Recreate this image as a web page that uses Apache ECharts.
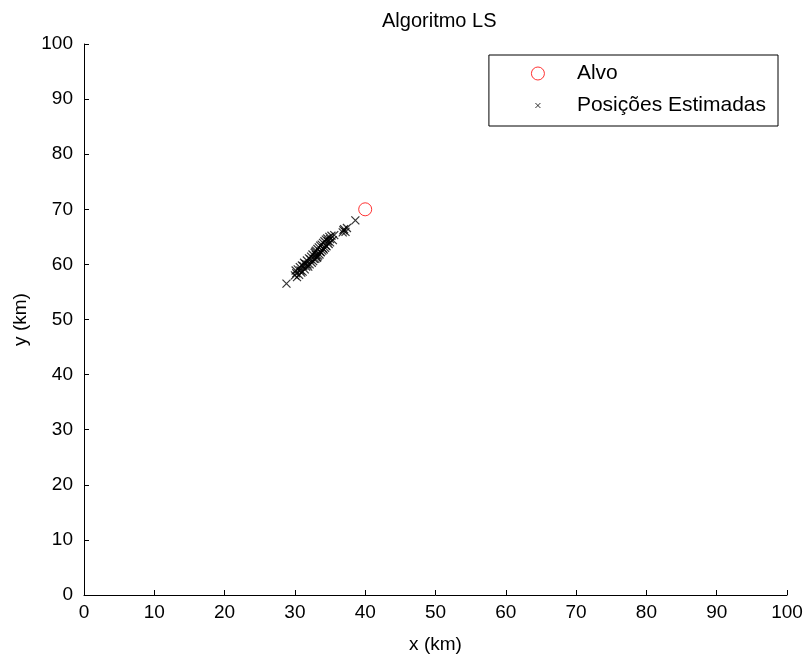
<!DOCTYPE html>
<html>
<head>
<meta charset="utf-8">
<script src="https://cdn.jsdelivr.net/npm/echarts@6/dist/echarts.min.js"></script>
<style>
html,body{margin:0;padding:0;background:#fff;}
#c{width:810px;height:659px;}
</style>
</head>
<body>
<div id="c"></div>
<script>
const titleText = 'Algoritmo LS';
const xName = 'x (km)';
const yName = 'y (km)';
const seriesNames = ['Alvo', 'Posições Estimadas'];
const targetX = [40];
const targetY = [70];
const estX = [28.8,30.0,30.1,30.3,30.4,30.6,30.7,30.9,31.0,31.1,31.3,31.4,31.6,31.7,31.9,32.0,32.1,32.3,32.4,32.5,32.6,32.8,32.9,33.0,33.1,33.2,33.3,33.4,33.5,33.6,33.7,33.8,33.9,34.0,34.1,34.2,34.3,34.4,34.5,34.6,34.8,34.9,35.0,35.2,35.4,35.6,33.2,32.7,31.8,30.8,33.6,34.4,30.2,31.2,32.2,33.0,34.0,35.0,31.5,32.9,34.7,36.8,37.0,37.2,37.4,36.9,38.6];
const estY = [56.5,58.0,58.9,57.7,59.1,58.1,59.5,58.5,59.8,58.7,60.3,59.1,59.6,60.7,59.6,61.1,60.0,61.4,60.3,61.8,60.6,62.1,61.0,62.5,61.2,62.8,61.6,63.1,61.8,63.4,62.2,63.6,62.5,63.9,62.7,64.2,63.0,64.5,63.3,64.7,63.7,65.0,64.0,65.2,64.4,65.3,61.3,61.0,60.0,58.9,62.3,63.4,58.4,59.7,60.9,61.7,62.9,64.6,60.1,62.3,64.2,65.8,66.4,65.9,66.6,66.2,68.0];
const xTicks = [0,10,20,30,40,50,60,70,80,90,100];
const yTicks = [0,10,20,30,40,50,60,70,80,90,100];

const FONT = 'Liberation Sans, Arial, sans-serif';
const crossPath = 'path://M0,0L10,10M10,0L0,10';
const crossLegend = 'path://M-8,-8M18,18M0,0L10,10M10,0L0,10';

const chart = echarts.init(document.getElementById('c'), null, {renderer:'canvas'});
const axisCommon = {
  type: 'value',
  min: xTicks[0], max: xTicks[xTicks.length-1], interval: xTicks[1]-xTicks[0],
  splitLine: {show:false},
  axisLine: {show:true, lineStyle:{color:'#000', width:1}},
  axisTick: {show:true, inside:true, length:5, lineStyle:{color:'#000'}},
  nameLocation: 'middle',
  nameTextStyle: {color:'#000', fontSize:19, fontFamily:FONT},
};
chart.setOption({
  animation: false,
  backgroundColor: '#fff',
  title: {
    text: titleText, left: 377, top: 6,
    textStyle: {color:'#000', fontSize:20, fontWeight:'normal', fontFamily:FONT}
  },
  grid: {left:84, right:23, top:44, bottom:62},
  legend: {
    orient: 'vertical',
    right: 32, top: 55,
    borderColor: '#000', borderWidth: 1,
    padding: [8, 12, 10, 42],
    itemGap: 11,
    itemWidth: 68, itemHeight: 13,
    textStyle: {color:'#000', fontSize:21, fontFamily:FONT},
    data: [
      {name: seriesNames[0], icon:'circle', itemStyle:{color:'transparent', borderColor:'#ff0000', borderWidth:1}},
      {name: seriesNames[1], icon: crossLegend, itemStyle:{color:'transparent', borderColor:'#000', borderWidth:1}}
    ]
  },
  xAxis: Object.assign({}, axisCommon, {
    name: xName, nameGap: 40,
    axisLabel: {color:'#000', fontSize:19, fontFamily:FONT, margin:8}
  }),
  yAxis: Object.assign({}, axisCommon, {
    min: yTicks[0], max: yTicks[yTicks.length-1], interval: yTicks[1]-yTicks[0],
    name: yName, nameGap: 52,
    axisLabel: {color:'#000', fontSize:19, fontFamily:FONT, margin:11}
  }),
  series: [
    {
      name: seriesNames[1], type: 'scatter',
      symbol: crossPath, symbolSize: 8,
      itemStyle: {color:'transparent', borderColor:'#000', borderWidth:1.2},
      data: estX.map((x,i)=>[x, estY[i]]),
      z: 2
    },
    {
      name: seriesNames[0], type: 'scatter',
      symbol: 'circle', symbolSize: 13,
      itemStyle: {color:'transparent', borderColor:'#ff0000', borderWidth:1},
      data: targetX.map((x,i)=>[x, targetY[i]]),
      z: 3
    }
  ]
});
</script>
</body>
</html>
